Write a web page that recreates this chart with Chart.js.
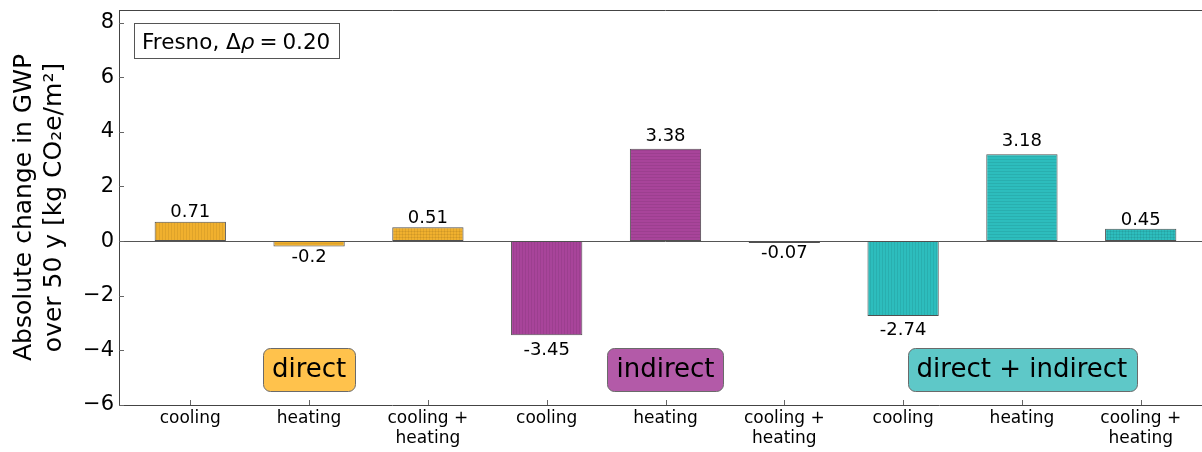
<!DOCTYPE html>
<html>
<head>
<meta charset="utf-8">
<script src="https://cdn.jsdelivr.net/npm/chart.js@4.4.0/dist/chart.umd.min.js"></script>
<style>
  html, body { margin: 0; padding: 0; background: #fff; overflow: hidden; }
  canvas { display: block; }
</style>
</head>
<body>
<canvas id="c" width="1214" height="452"></canvas>
<script>
// Categories along the x axis (multi-line labels as arrays)
const categories = [
  ['cooling'], ['heating'], ['cooling +', 'heating'],
  ['cooling'], ['heating'], ['cooling +', 'heating'],
  ['cooling'], ['heating'], ['cooling +', 'heating']
];
// Absolute change in GWP over 50 y [kg CO2e/m2]
const gwpChange = [0.71, -0.2, 0.51, -3.45, 3.38, -0.07, -2.74, 3.18, 0.45];
// Which group each bar belongs to (0 direct, 1 indirect, 2 direct + indirect)
const barGroup = [0, 0, 0, 1, 1, 1, 2, 2, 2];
// Hatch style per bar: v = cooling, h = heating, x = cooling + heating
const barHatch = ['v', 'h', 'x', 'v', 'h', 'x', 'v', 'h', 'x'];
const yTicks = [-6, -4, -2, 0, 2, 4, 6, 8];
const groupNames = ['direct', 'indirect', 'direct + indirect'];
const groupCenters = [1, 4, 7];
const groupLabelY = -4.7;
const barColors = ['#f0b02e', '#a8449a', '#2dbdbd'];
const boxColors = ['#ffc24c', '#b35aa8', '#5ec8c8'];
const FONT = '"DejaVu Sans", "Liberation Sans", sans-serif';

function makePattern(color, kind) {
  const p = document.createElement('canvas');
  p.width = 3; p.height = 3;
  const g = p.getContext('2d');
  g.fillStyle = color;
  g.fillRect(0, 0, 3, 3);
  g.fillStyle = 'rgba(0,0,0,0.07)';
  if (kind === 'v' || kind === 'x') g.fillRect(0, 0, 1, 3);
  if (kind === 'h' || kind === 'x') g.fillRect(0, 0, 3, 1);
  return document.getElementById('c').getContext('2d').createPattern(p, 'repeat');
}

const fills = gwpChange.map((_, i) => makePattern(barColors[barGroup[i]], barHatch[i]));

function roundRect(ctx, x, y, w, h, r) {
  ctx.beginPath();
  ctx.moveTo(x + r, y);
  ctx.lineTo(x + w - r, y);
  ctx.arcTo(x + w, y, x + w, y + r, r);
  ctx.lineTo(x + w, y + h - r);
  ctx.arcTo(x + w, y + h, x + w - r, y + h, r);
  ctx.lineTo(x + r, y + h);
  ctx.arcTo(x, y + h, x, y + h - r, r);
  ctx.lineTo(x, y + r);
  ctx.arcTo(x, y, x + r, y, r);
  ctx.closePath();
}

const decorations = {
  id: 'decorations',
  beforeDatasetsDraw(chart) {
    const { ctx, chartArea: a, scales: { y } } = chart;
    const y0 = Math.round(y.getPixelForValue(0)) + 0.5;
    ctx.save();
    ctx.strokeStyle = '#555';
    ctx.lineWidth = 1;
    ctx.beginPath();
    ctx.moveTo(a.left, y0);
    ctx.lineTo(a.right, y0);
    ctx.stroke();
    ctx.restore();
  },
  afterDraw(chart) {
    const { ctx, chartArea: a, scales: { x, y } } = chart;
    ctx.save();

    // top spine
    ctx.strokeStyle = '#444';
    ctx.lineWidth = 1;
    ctx.beginPath();
    ctx.moveTo(a.left, a.top + 0.5);
    ctx.lineTo(a.right, a.top + 0.5);
    ctx.stroke();

    // inward tick marks
    ctx.strokeStyle = '#666';
    ctx.beginPath();
    yTicks.forEach(v => {
      const py = Math.round(y.getPixelForValue(v)) + 0.5;
      ctx.moveTo(a.left, py);
      ctx.lineTo(a.left + 5, py);
    });
    categories.forEach((_, i) => {
      const px = Math.round(x.getPixelForValue(i)) + 0.5;
      ctx.moveTo(px, a.bottom);
      ctx.lineTo(px, a.bottom - 5);
    });
    ctx.stroke();

    // value labels, placed a little beyond the bar end
    ctx.fillStyle = '#000';
    ctx.font = '18px ' + FONT;
    ctx.textAlign = 'center';
    ctx.textBaseline = 'alphabetic';
    const ppu = Math.abs(y.getPixelForValue(1) - y.getPixelForValue(0));
    const meta = chart.getDatasetMeta(0);
    meta.data.forEach((bar, i) => {
      const v = gwpChange[i];
      const txt = String(v);
      const end = y.getPixelForValue(v);
      const extra = 0.05 * Math.abs(v) * ppu;
      if (v >= 0) ctx.fillText(txt, bar.x, end - 3.5 - extra);
      else ctx.fillText(txt, bar.x, end + 2 + extra + 13);
    });

    // group boxes
    ctx.font = '26px ' + FONT;
    groupNames.forEach((name, g) => {
      const cx = x.getPixelForValue(groupCenters[g]);
      const cy = y.getPixelForValue(groupLabelY);
      const w = ctx.measureText(name).width + 18;
      const h = 43;
      roundRect(ctx, Math.round(cx - w / 2) + 0.5, Math.round(cy - h / 2) + 0.5, Math.round(w), h, 7);
      ctx.fillStyle = boxColors[g];
      ctx.fill();
      ctx.strokeStyle = '#6a6a6a';
      ctx.stroke();
      ctx.fillStyle = '#000';
      ctx.textBaseline = 'middle';
      ctx.fillText(name, cx, cy + 1);
    });

    // location box
    ctx.fillStyle = '#fff';
    ctx.strokeStyle = '#555';
    ctx.fillRect(134.5, 23.5, 205, 35);
    ctx.strokeRect(134.5, 23.5, 205, 35);
    ctx.fillStyle = '#000';
    ctx.textAlign = 'left';
    ctx.textBaseline = 'alphabetic';
    let tx = 142;
    const ty = 48.5;
    ctx.font = '21.5px ' + FONT;
    const p1 = 'Fresno, \u0394';
    ctx.fillText(p1, tx, ty);
    tx += ctx.measureText(p1).width;
    ctx.font = 'italic 21.5px ' + FONT;
    ctx.fillText('\u03c1', tx, ty);
    tx += ctx.measureText('\u03c1').width + 5;
    ctx.font = '21.5px ' + FONT;
    ctx.fillText('=', tx, ty);
    tx += ctx.measureText('=').width + 5;
    ctx.fillText('0.20', tx, ty);

    // y-axis title
    ctx.font = '25px ' + FONT;
    ctx.textAlign = 'center';
    ctx.textBaseline = 'middle';
    ctx.translate(24, (a.top + a.bottom) / 2);
    ctx.rotate(-Math.PI / 2);
    ctx.fillText('Absolute change in GWP', 0, 0);
    ctx.fillText('over 50 y [kg CO\u2082e/m\u00b2]', 0, 30);

    ctx.restore();
  }
};

new Chart(document.getElementById('c'), {
  type: 'bar',
  data: {
    datasets: [{
      data: gwpChange.map((v, i) => ({ x: i, y: v })),
      backgroundColor: fills,
      borderColor: '#505050',
      borderWidth: 1,
      borderSkipped: false,
      barPercentage: 0.6,
      categoryPercentage: 1.0
    }]
  },
  options: {
    responsive: false,
    animation: false,
    devicePixelRatio: 1,
    layout: { padding: { top: 10, right: 2, left: 0, bottom: 0 } },
    plugins: { legend: { display: false }, tooltip: { enabled: false } },
    scales: {
      x: {
        type: 'linear',
        offset: false,
        min: -0.6,
        max: 8.6,
        afterBuildTicks: s => { s.ticks = categories.map((_, i) => ({ value: i })); },
        afterFit: s => { s.height = 47; s.paddingLeft = 0; s.paddingRight = 0; },
        grid: { display: false, drawTicks: false, offset: false },
        border: { display: true, color: '#444', width: 1 },
        ticks: {
          autoSkip: false,
          maxRotation: 0,
          padding: 4,
          color: '#000',
          font: { family: FONT, size: 17, lineHeight: 1.15 },
          callback: v => categories[v]
        }
      },
      y: {
        min: -6,
        max: 8.46,
        afterBuildTicks: s => { s.ticks = yTicks.map(v => ({ value: v })); },
        afterFit: s => { s.width = 119; s.paddingTop = 0; s.paddingBottom = 0; },
        grid: { display: false, drawTicks: false },
        border: { display: true, color: '#444', width: 1 },
        ticks: {
          padding: 5,
          color: '#000',
          font: { family: FONT, size: 21 },
          callback: v => (v < 0 ? '\u2212' + Math.abs(v) : String(v))
        }
      }
    }
  },
  plugins: [decorations]
});
</script>
</body>
</html>
